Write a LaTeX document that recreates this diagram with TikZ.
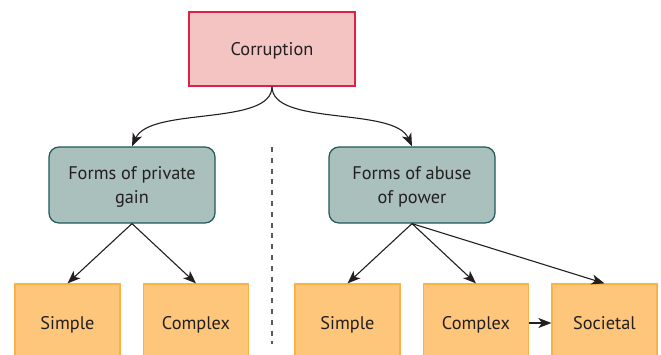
\documentclass[tikz,border=0pt]{standalone}
\usepackage{fontspec}
\setmainfont{PT Sans}
\usetikzlibrary{arrows.meta}
\definecolor{rootfill}{RGB}{243,196,193}
\definecolor{rootline}{RGB}{222,32,74}
\definecolor{formfill}{RGB}{170,192,189}
\definecolor{formline}{RGB}{31,88,88}
\definecolor{leaffill}{RGB}{253,198,122}
\definecolor{leafline}{RGB}{250,178,66}
\definecolor{ink}{RGB}{35,31,32}
\begin{document}
\begin{tikzpicture}[x=1pt,y=-1pt,
  every node/.style={font=\fontsize{18.3}{23.5}\selectfont, text=ink, align=center, inner sep=0pt, text depth=0pt},
  rootbox/.style={draw=rootline, fill=rootfill, line width=1.2pt, minimum width=166pt, minimum height=74pt},
  formbox/.style={draw=formline, fill=formfill, line width=1.2pt, rounded corners=10pt, minimum width=166pt, minimum height=76pt},
  leafbox/.style={draw=leafline, fill=leaffill, line width=1.2pt, minimum width=105pt, minimum height=78pt},
  link/.style={draw=ink, line width=1.1pt, -{Stealth[length=13pt,width=10pt,inset=3.5pt]}},
  divider/.style={draw=black!65, line width=1.3pt, dash pattern=on 5pt off 5.8pt}]
  \clip (0,0) rectangle (661,354);

  % root and the two families of corruption
  \node[rootbox] (root) at (272,49) {Corruption};
  \node[formbox] (gain) at (132,185) {Forms of private\\gain};
  \node[formbox] (abuse) at (412,185) {Forms of abuse\\of power};

  % leaf categories
  \node[leafbox] (gsimple) at (67.5,323) {Simple};
  \node[leafbox] (gcomplex) at (196,323) {Complex};
  \node[leafbox] (asimple) at (347.5,323) {Simple};
  \node[leafbox] (acomplex) at (476,323) {Complex};
  \node[leafbox] (asocietal) at (604.5,323) {Societal};

  % dividing line between the two families
  \coordinate (divtop) at (272,147);
  \coordinate (divbot) at (272,344);
  \draw[divider] (divtop) -- (divbot);

  % branches from the root
  \draw[link] (root.south) .. controls ++(0,40) and ++(18,-40) .. (gain.north);
  \draw[link] (root.south) .. controls ++(0,40) and ++(-18,-40) .. (abuse.north);

  % branches to the leaves
  \draw[link] (gain.south) -- (gsimple.north);
  \draw[link] (gain.south) -- (gcomplex.north);
  \draw[link] (abuse.south) -- (asimple.north);
  \draw[link] (abuse.south) -- (acomplex.north);
  \draw[link] (abuse.south) -- (asocietal.north);
  \draw[link] (acomplex.east) -- (asocietal.west);
\end{tikzpicture}
\end{document}
